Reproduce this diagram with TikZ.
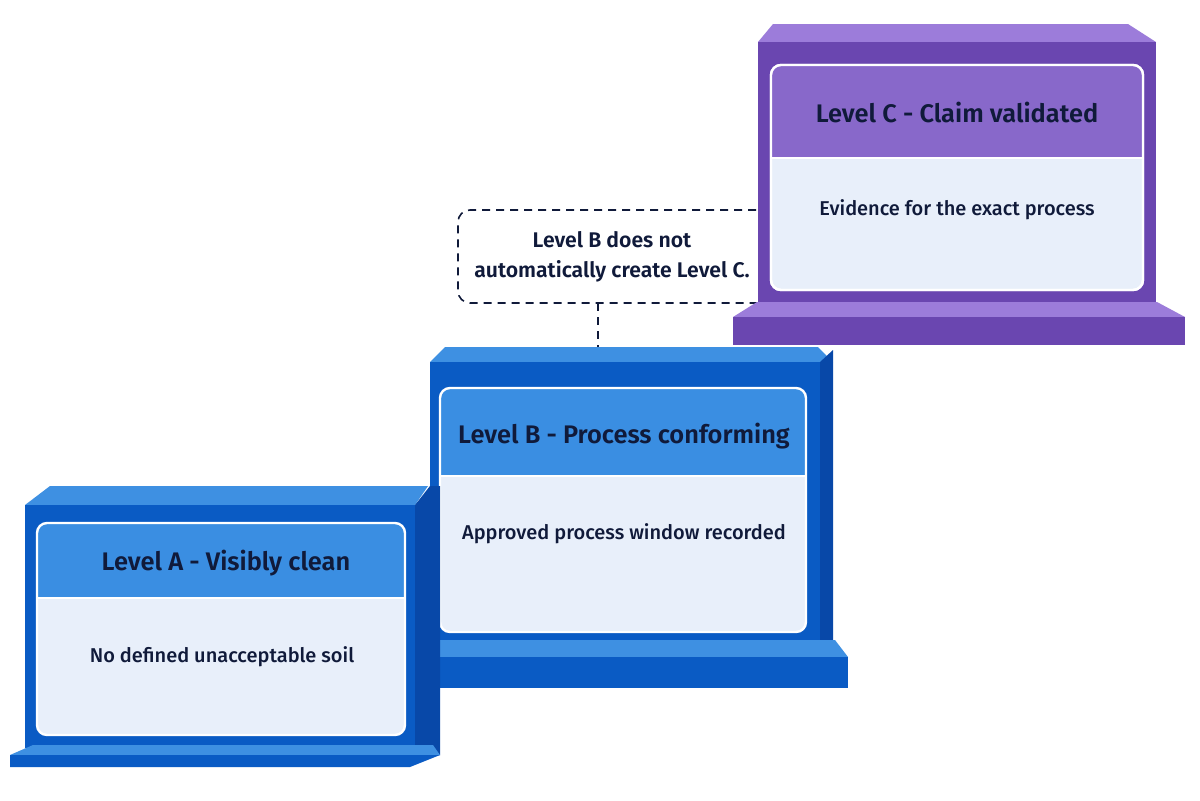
\documentclass[tikz,border=0pt]{standalone}
\usepackage{fontspec}
\setmainfont{Fira Sans}[UprightFont=* Medium, BoldFont=* SemiBold]
\begin{document}
\begin{tikzpicture}[x=0.5pt,y=-0.5pt,
  ttl/.style={font=\bfseries\fontsize{12.7}{14}\selectfont, text=navy},
  bdy/.style={font=\fontsize{10}{12}\selectfont, text=navy},
  card/.style={draw=white, line width=1.2pt, rounded corners=5pt}]
\definecolor{navy}{HTML}{101A3A}
\definecolor{bfront}{HTML}{0A5BC4}
\definecolor{btop}{HTML}{3E90E2}
\definecolor{bside}{HTML}{0848A8}
\definecolor{bhead}{HTML}{3A8EE2}
\definecolor{cbody}{HTML}{E8EFFA}
\definecolor{pfront}{HTML}{6A46B0}
\definecolor{ptop}{HTML}{9C7CDA}
\definecolor{phead}{HTML}{8868CA}
\useasboundingbox (0,0) rectangle (1200,800);
\fill[white] (0,0) rectangle (1200,800);
% note box (behind C)
\draw[navy, dashed, line width=0.8pt, dash pattern=on 4pt off 3pt, rounded corners=6pt]
  (770,210) -- (458,210) -- (458,303) -- (770,303);
\node[bdy, align=center, font=\bfseries\fontsize{10.6}{15}\selectfont] (note) at (612,257) {Level B does not\\automatically create Level C.};
\coordinate (nb) at (598,303);
% ---- Level C ----
\fill[ptop] (758,42) -- (773,24) -- (1128,24) -- (1156,42) -- cycle;
\fill[pfront] (758,42) rectangle (1156,305);
\fill[ptop] (757,302) -- (1157,302) -- (1185,317) -- (733,317) -- cycle;
\fill[pfront] (733,317) rectangle (1185,345);
\path[card, fill=cbody] (771,65) rectangle (1143,290);
\begin{scope}
\clip[rounded corners=5pt] (771,65) rectangle (1143,290);
\fill[phead] (771,65) rectangle (1143,158);
\end{scope}
\draw[card] (771,65) rectangle (1143,290);
\draw[white, line width=1pt] (771,158) -- (1143,158);
\node[ttl] (ct) at (957,112) {Level C - Claim validated};
\node[bdy] (cb) at (957,210) {Evidence for the exact process};
% ---- Level B ----
\coordinate (btopc) at (598,347);
\fill[btop] (430,362) -- (445,347) -- (818,347) -- (833,362) -- cycle;
\fill[bside] (820,362) -- (833,350) -- (833,645) -- (820,645) -- cycle;
\fill[bfront] (430,362) rectangle (820,645);
\fill[btop] (430,640) -- (835,640) -- (848,657) -- (415,657) -- cycle;
\fill[bfront] (415,657) rectangle (848,688);
\begin{scope}
\clip[rounded corners=5pt] (440,388) rectangle (806,632);
\fill[cbody] (440,388) rectangle (806,632);
\fill[bhead] (440,388) rectangle (806,476);
\end{scope}
\draw[card] (440,388) rectangle (806,632);
\draw[white, line width=1pt] (440,476) -- (806,476);
\node[ttl] (bt) at (624,436) {Level B - Process conforming};
\node[bdy] (bb) at (624,534) {Approved process window recorded};
% ---- Level A ----
\fill[btop] (25,505) -- (50,486) -- (428,486) -- (415,505) -- cycle;
\fill[bside] (415,505) -- (430,486) -- (440,486) -- (440,755) -- (415,755) -- cycle;
\fill[bfront] (25,505) rectangle (415,748);
\fill[btop] (33,745) -- (433,745) -- (440,755) -- (10,755) -- cycle;
\fill[bfront] (10,755) -- (440,755) -- (410,767) -- (10,767) -- cycle;
\begin{scope}
\clip[rounded corners=5pt] (37,523) rectangle (405,735);
\fill[cbody] (37,523) rectangle (405,735);
\fill[bhead] (37,523) rectangle (405,598);
\end{scope}
\draw[card] (37,523) rectangle (405,735);
\draw[white, line width=1pt] (37,598) -- (405,598);
\node[ttl] (at) at (226,563) {Level A - Visibly clean};
\node[bdy] (ab) at (222,657) {No defined unacceptable soil};
% connector
\draw[navy, line width=0.8pt, dash pattern=on 4pt off 3pt] (nb) -- (btopc);
\end{tikzpicture}
\end{document}
